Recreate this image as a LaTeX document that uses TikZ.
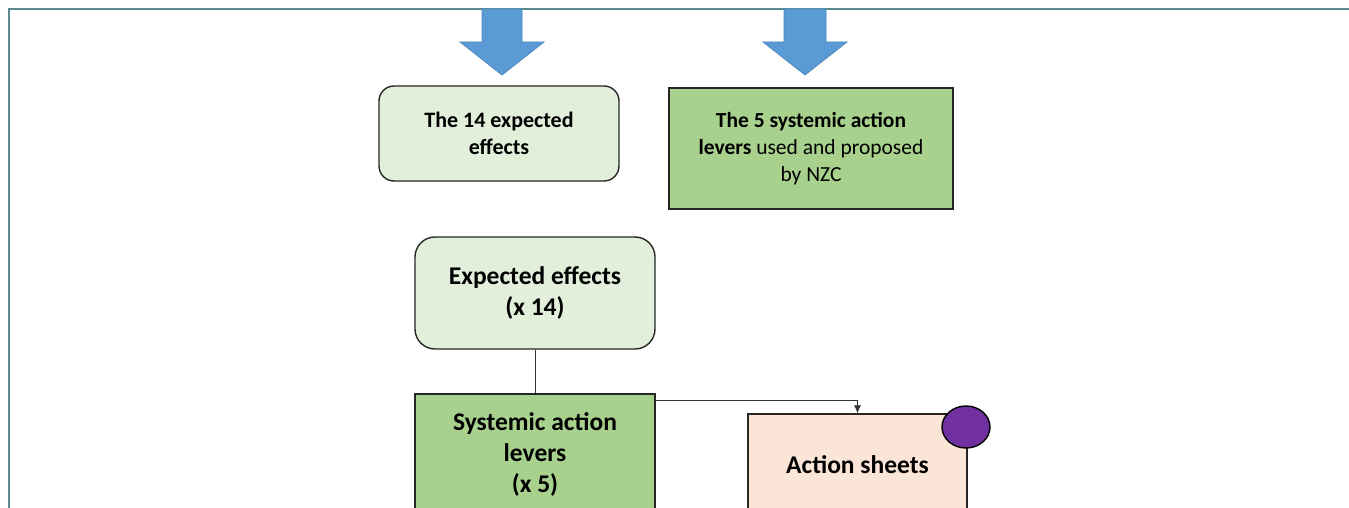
\documentclass[tikz,border=0pt]{standalone}
\usepackage{fontspec}
\setmainfont{Carlito}
\usetikzlibrary{arrows.meta,shapes.geometric}
\definecolor{framecol}{HTML}{5B8A8F}
\definecolor{arrowblue}{HTML}{5B9BD5}
\definecolor{arrowedge}{HTML}{4F89BF}
\definecolor{palegreen}{HTML}{E2EFDA}
\definecolor{midgreen}{HTML}{A9D18E}
\definecolor{peach}{HTML}{FBE5D6}
\definecolor{badge}{HTML}{7030A0}
\tikzset{
  boxline/.style={draw=black!85, line width=1.4pt, align=center, inner sep=0pt},
  softbox/.style={boxline, fill=palegreen, rounded corners=15pt},
  leverbox/.style={boxline, fill=midgreen},
  sheetbox/.style={boxline, fill=peach},
  bigarrow/.style={fill=arrowblue, draw=arrowedge, line width=0.8pt, line join=miter},
  link/.style={draw=black!80, line width=0.8pt}
}
\begin{document}
\begin{tikzpicture}[x=1pt, y=-1pt]
  \useasboundingbox (0,0) rectangle (1349,508);
  \begin{scope}
    \clip (0,0) rectangle (1349,508);

    % outer frame (top and left edges)
    \draw[framecol, line width=2pt] (9,520) -- (9,9) -- (1360,9);

    % block arrows feeding the two top boxes
    \path[bigarrow] (482,9) -- (522,9) -- (522,42) -- (544,42) -- (502,75)
      -- (460,42) -- (482,42) -- cycle;
    \path[bigarrow] (784,9) -- (826,9) -- (826,42) -- (847,42) -- (805,75)
      -- (763,42) -- (784,42) -- cycle;

    % top row
    \node[softbox, minimum width=240pt, minimum height=95pt,
          font=\bfseries\fontsize{22}{27}\selectfont]
      (effects14) at (499,133.5) {The 14 expected\\effects};
    \node[leverbox, minimum width=284pt, minimum height=121pt,
          font=\fontsize{21.5}{27}\selectfont]
      (levers5) at (811,148.5)
      {\textbf{The 5 systemic action}\\\textbf{levers} used and proposed\\by NZC};

    % lower column
    \node[softbox, rounded corners=20pt, minimum width=240pt, minimum height=112pt,
          font=\bfseries\fontsize{25.5}{31}\selectfont]
      (expected) at (535,293) {Expected effects\\(x 14)};
    \node[leverbox, minimum width=240pt, minimum height=120pt,
          font=\bfseries\fontsize{25.5}{31}\selectfont]
      (systemic) at (535,454) {Systemic action\\levers\\(x 5)};
    \node[sheetbox, minimum width=219pt, minimum height=102pt,
          font=\bfseries\fontsize{25.5}{31}\selectfont]
      (sheets) at (857.5,465) {Action sheets};
    \node[ellipse, draw=black, line width=1.4pt, fill=badge,
          minimum width=48pt, minimum height=42pt, inner sep=0pt]
      (dot) at (966,427) {};

    % connectors
    \draw[link] (expected.south) -- (systemic.north);
    \draw[link, -{Latex[length=8pt,width=7pt]}]
      ([yshift=-7pt]systemic.north east) -| (sheets.north);
  \end{scope}
\end{tikzpicture}
\end{document}
